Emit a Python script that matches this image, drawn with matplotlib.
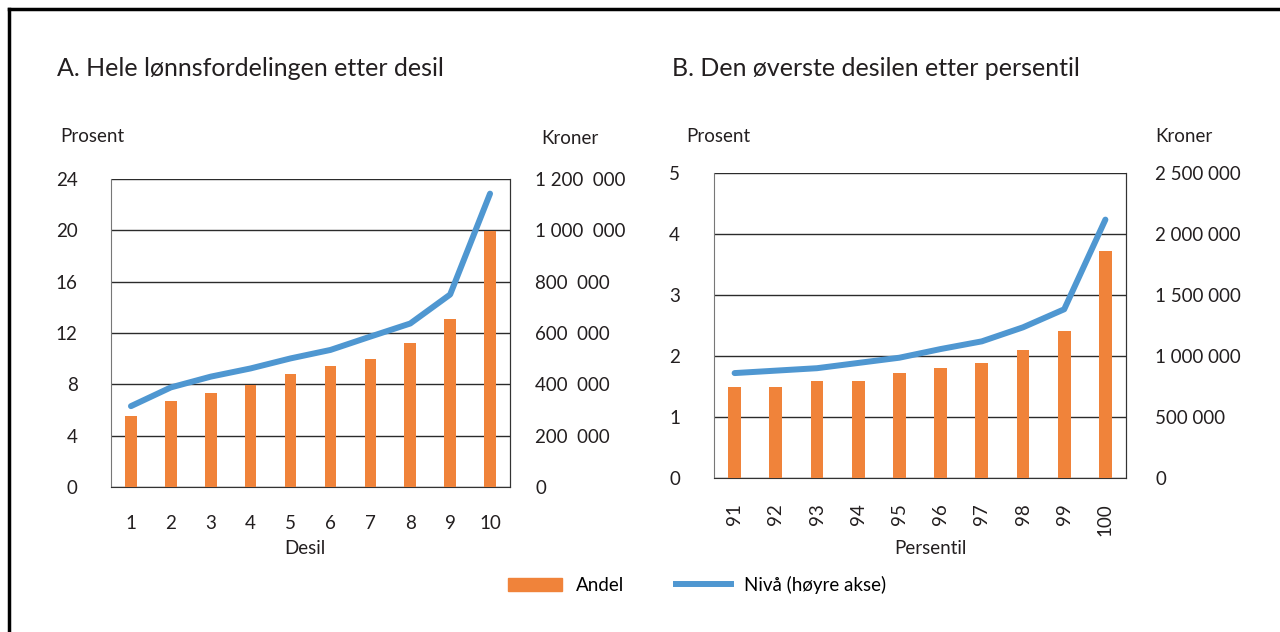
import matplotlib.pyplot as plt
from matplotlib.lines import Line2D
from matplotlib.patches import Patch

plt.rcParams['font.family'] = ['Lato', 'DejaVu Sans']

# Panel A: hele lønnsfordelingen etter desil
desil = ['1', '2', '3', '4', '5', '6', '7', '8', '9', '10']
andel_a = [5.5, 6.7, 7.35, 7.95, 8.8, 9.4, 10.0, 11.25, 13.1, 19.95]
niva_a = [315000, 388000, 430000, 462000, 501000, 534000, 586000, 637000, 750000, 1143000]
left_ticks_a = [0, 4, 8, 12, 16, 20, 24]
right_ticks_a = [0, 200000, 400000, 600000, 800000, 1000000, 1200000]
right_labels_a = ['0', '200  000', '400  000', '600  000', '800  000', '1 000  000', '1 200  000']

# Panel B: den øverste desilen etter persentil
persentil = ['91', '92', '93', '94', '95', '96', '97', '98', '99', '100']
andel_b = [1.5, 1.5, 1.59, 1.59, 1.72, 1.8, 1.89, 2.1, 2.41, 3.72]
niva_b = [860000, 880000, 900000, 943000, 986000, 1057000, 1120000, 1235000, 1383000, 2118000]
left_ticks_b = [0, 1, 2, 3, 4, 5]
right_ticks_b = [0, 500000, 1000000, 1500000, 2000000, 2500000]
right_labels_b = ['0', '500 000', '1 000 000', '1 500 000', '2 000 000', '2 500 000']

orange = '#F0833A'
blue = '#4F97D1'
txt = '#231F20'
fs = 13.5

fig = plt.figure(figsize=(12.8, 6.32), dpi=100)

# frame around the figure
fig.add_artist(Line2D([9 / 1280, 9 / 1280], [0, 1 - 9 / 632], transform=fig.transFigure, color='black', lw=2.5))
fig.add_artist(Line2D([9 / 1280, 1], [1 - 9 / 632, 1 - 9 / 632], transform=fig.transFigure, color='black', lw=2.5))


def panel(rect, cats, andel, niva, lt, rt, rl, ymax, y2max, rotate, lpad, rpad, xpad, bw):
    ax = fig.add_axes(rect)
    x = list(range(len(cats)))
    ax.bar(x, andel, width=bw, color=orange, zorder=3)
    ax.set_xlim(-0.5, len(cats) - 0.5)
    ax.set_ylim(0, ymax)
    ax.set_yticks(lt)
    ax.set_yticklabels([str(t) for t in lt], fontsize=fs, color=txt)
    ax.tick_params(axis='y', length=0, pad=lpad)
    ax.set_xticks(x)
    ax.set_xticklabels(cats, fontsize=fs, color=txt, rotation=90 if rotate else 0)
    ax.tick_params(axis='x', length=0, pad=xpad)
    ax.grid(axis='y', color='#2b2b2b', lw=1, zorder=0)
    ax.set_axisbelow(True)
    ax.spines['top'].set_visible(False)
    ax.spines['left'].set_color('#777777')
    ax.spines['bottom'].set_color('#333333')
    ax.spines['right'].set_color('#333333')

    ax2 = ax.twinx()
    ax2.plot(x, niva, color=blue, lw=4.3, solid_capstyle='round', zorder=4)
    ax2.set_ylim(0, y2max)
    ax2.set_yticks(rt)
    ax2.set_yticklabels(rl, fontsize=fs, color=txt)
    ax2.tick_params(axis='y', length=0, pad=rpad)
    for s in ['top', 'left', 'bottom']:
        ax2.spines[s].set_visible(False)
    ax2.spines['right'].set_color('#333333')
    return ax, ax2


axA, axA2 = panel([111 / 1280, 1 - 487 / 632, 399 / 1280, 308 / 632], desil, andel_a, niva_a,
                  left_ticks_a, right_ticks_a, right_labels_a, 24, 1200000, False, 24, 18, 20, 0.29)
axB, axB2 = panel([714 / 1280, 1 - 478 / 632, 412 / 1280, 305 / 632], persentil, andel_b, niva_b,
                  left_ticks_b, right_ticks_b, right_labels_b, 5, 2500000, True, 24.5, 21, 18, 0.31)

# titles and axis captions
fig.text(57 / 1280, 1 - 68 / 632, 'A. Hele lønnsfordelingen etter desil', fontsize=18, color=txt, va='center')
fig.text(672 / 1280, 1 - 68 / 632, 'B. Den øverste desilen etter persentil', fontsize=18, color=txt, va='center')
fig.text(60 / 1280, 1 - 136 / 632, 'Prosent', fontsize=fs, color=txt, va='center')
fig.text(541 / 1280, 1 - 138 / 632, 'Kroner', fontsize=fs, color=txt, va='center')
fig.text(686 / 1280, 1 - 136 / 632, 'Prosent', fontsize=fs, color=txt, va='center')
fig.text(1155 / 1280, 1 - 136 / 632, 'Kroner', fontsize=fs, color=txt, va='center')
fig.text(305 / 1280, 1 - 548 / 632, 'Desil', fontsize=fs, color=txt, va='center', ha='center')
fig.text(930 / 1280, 1 - 548 / 632, 'Persentil', fontsize=fs, color=txt, va='center', ha='center')

handles = [Patch(color=orange, label='Andel'), Line2D([], [], color=blue, lw=4.3, label='Nivå (høyre akse)')]
fig.legend(handles=handles, loc='center', bbox_to_anchor=(697 / 1280, 1 - 585 / 632), ncol=2, frameon=False,
           fontsize=fs, handlelength=2.9, handleheight=0.75, columnspacing=2.8, handletextpad=0.7)

plt.savefig('out.png', dpi=100)
